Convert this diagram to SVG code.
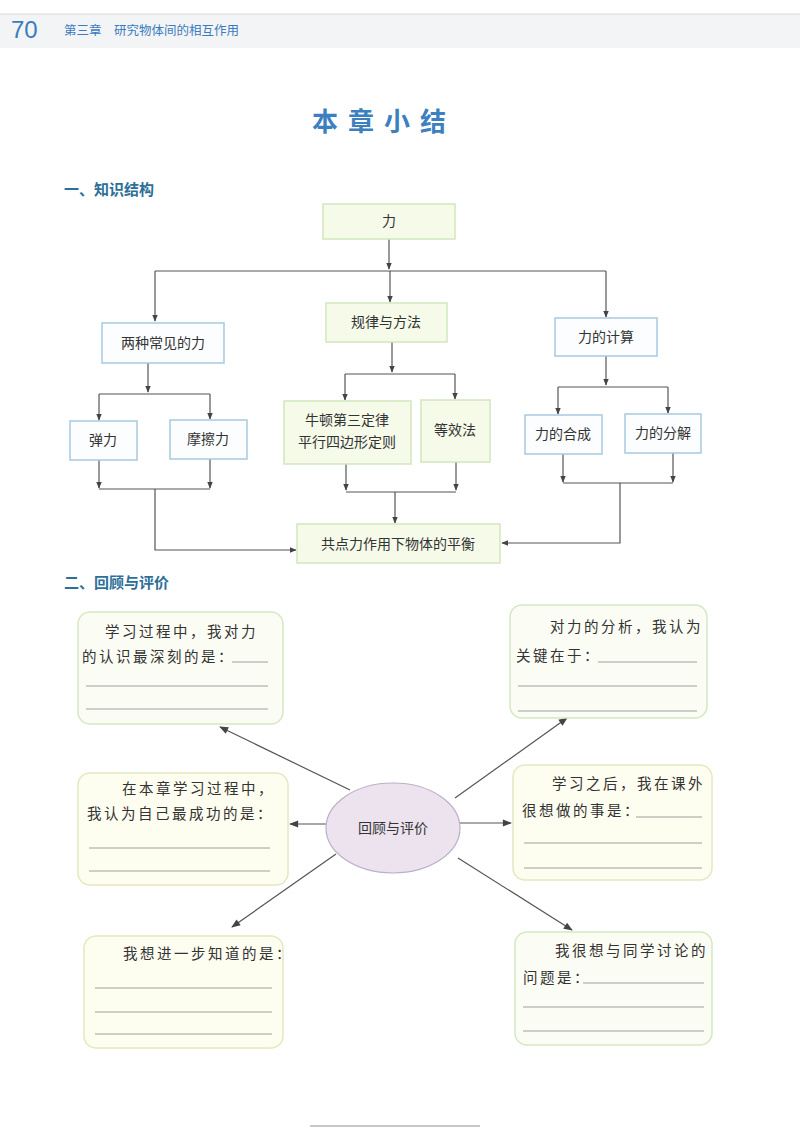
<svg xmlns="http://www.w3.org/2000/svg" width="800" height="1132" viewBox="0 0 800 1132">
<defs>
<marker id="ah" viewBox="0 0 10 10" refX="9" refY="5" markerWidth="7" markerHeight="7" orient="auto" markerUnits="userSpaceOnUse"><path d="M0,1 L10,5 L0,9 Z" fill="#444"/></marker>
<marker id="ah2" viewBox="0 0 10 10" refX="9" refY="5" markerWidth="12" markerHeight="9" orient="auto" markerUnits="userSpaceOnUse"><path d="M0,1 L10,5 L0,9 Z" fill="#444"/></marker>
</defs>
<style>
text{font-family:"Liberation Serif","Noto Sans CJK SC",serif;fill:#333}
.g{fill:#f5fae9;stroke:#d3e6bf;stroke-width:1.5}
.b{fill:#fbfdfe;stroke:#a9c9df;stroke-width:1.5}
.t{font-size:14px;text-anchor:middle}
.c line,.c polyline{stroke:#555;stroke-width:1.2;fill:none}
.r{fill:#fbfdf4;stroke:#d5e8c4;stroke-width:1.5}
.ry{fill:#fdfdf0;stroke:#e6e8c0;stroke-width:1.5}
.u{stroke:#888;stroke-width:0.8}
.bt{font-size:14.5px;letter-spacing:2.5px}
.h{font-family:"Noto Sans CJK SC",sans-serif;fill:#2e6f98;font-weight:bold;font-size:15px}
</style>
<rect x="0" y="0" width="800" height="1132" fill="#ffffff"/>
<rect x="0" y="14" width="800" height="34" fill="#f3f4f5"/>
<line x1="0" y1="14" x2="800" y2="14" stroke="#d8d8d8"/>
<text x="11" y="38" style="font-family:'Liberation Sans',sans-serif;font-size:24px;fill:#3a7cc0">70</text>
<text x="64" y="35" style="font-family:'Noto Sans CJK SC',sans-serif;font-size:12.5px;fill:#3a7cc0">第三章　研究物体间的相互作用</text>
<text x="384" y="131" text-anchor="middle" style="font-family:'Noto Sans CJK SC',sans-serif;font-size:26px;font-weight:bold;fill:#3d80c0;letter-spacing:10px">本章小结</text>
<text x="64" y="195" class="h">一、知识结构</text>
<text x="64" y="588" class="h">二、回顾与评价</text>

<g id="connectors" class="c">
<line x1="389" y1="239" x2="389" y2="269" marker-end="url(#ah)"/>
<line x1="155" y1="271" x2="606" y2="271"/>
<line x1="155" y1="271" x2="155" y2="321" marker-end="url(#ah)"/>
<line x1="390" y1="271" x2="390" y2="302" marker-end="url(#ah)"/>
<line x1="606" y1="271" x2="606" y2="317" marker-end="url(#ah)"/>
<line x1="148" y1="363" x2="148" y2="392" marker-end="url(#ah)"/>
<line x1="99" y1="394" x2="210" y2="394"/>
<line x1="99" y1="394" x2="99" y2="420" marker-end="url(#ah)"/>
<line x1="210" y1="394" x2="210" y2="419" marker-end="url(#ah)"/>
<line x1="99" y1="460" x2="99" y2="488" marker-end="url(#ah)"/>
<line x1="210" y1="459" x2="210" y2="488" marker-end="url(#ah)"/>
<line x1="99" y1="489" x2="210" y2="489"/>
<polyline points="155,489 155,550 296,550" marker-end="url(#ah)"/>
<line x1="392" y1="342" x2="392" y2="372" marker-end="url(#ah)"/>
<line x1="345" y1="374" x2="455" y2="374"/>
<line x1="345" y1="374" x2="345" y2="400" marker-end="url(#ah)"/>
<line x1="455" y1="374" x2="455" y2="399" marker-end="url(#ah)"/>
<line x1="346" y1="464" x2="346" y2="490" marker-end="url(#ah)"/>
<line x1="456" y1="462" x2="456" y2="490" marker-end="url(#ah)"/>
<line x1="346" y1="492" x2="456" y2="492"/>
<line x1="395" y1="492" x2="395" y2="523" marker-end="url(#ah)"/>
<line x1="606" y1="356" x2="606" y2="385" marker-end="url(#ah)"/>
<line x1="558" y1="387" x2="668" y2="387"/>
<line x1="558" y1="387" x2="558" y2="414" marker-end="url(#ah)"/>
<line x1="668" y1="387" x2="668" y2="413" marker-end="url(#ah)"/>
<line x1="563" y1="454" x2="563" y2="482" marker-end="url(#ah)"/>
<line x1="673" y1="453" x2="673" y2="482" marker-end="url(#ah)"/>
<line x1="563" y1="483" x2="673" y2="483"/>
<polyline points="620,483 620,543 502,543" marker-end="url(#ah)"/>
<line x1="350" y1="790" x2="220" y2="727" marker-end="url(#ah2)"/>
<line x1="455" y1="798" x2="567" y2="718" marker-end="url(#ah2)"/>
<line x1="326" y1="824" x2="290" y2="824" marker-end="url(#ah2)"/>
<line x1="460" y1="823" x2="511" y2="823" marker-end="url(#ah2)"/>
<line x1="336" y1="854" x2="232" y2="927" marker-end="url(#ah2)"/>
<line x1="458" y1="858" x2="572" y2="930" marker-end="url(#ah2)"/>
</g>

<g id="n-li"><rect class="g" x="323" y="204" width="132" height="35"/><text class="t" x="389" y="226">力</text></g>
<g id="n-liangzhong"><rect class="b" x="102" y="323" width="122" height="40"/><text class="t" x="163" y="348">两种常见的力</text></g>
<g id="n-guilv"><rect class="g" x="326" y="303" width="121" height="39"/><text class="t" x="386" y="327">规律与方法</text></g>
<g id="n-jisuan"><rect class="b" x="555" y="318" width="102" height="38"/><text class="t" x="606" y="342">力的计算</text></g>
<g id="n-tanli"><rect class="b" x="70" y="421" width="67" height="39"/><text class="t" x="103" y="445">弹力</text></g>
<g id="n-mocali"><rect class="b" x="170" y="420" width="77" height="39"/><text class="t" x="208" y="444">摩擦力</text></g>
<g id="n-niudun"><rect class="g" x="284" y="401" width="127" height="63"/><text class="t" x="347" y="425">牛顿第三定律</text><text class="t" x="347" y="447">平行四边形定则</text></g>
<g id="n-dengxiao"><rect class="g" x="421" y="400" width="69" height="62"/><text class="t" x="455" y="435">等效法</text></g>
<g id="n-hecheng"><rect class="b" x="525" y="415" width="77" height="39"/><text class="t" x="563" y="439">力的合成</text></g>
<g id="n-fenjie"><rect class="b" x="625" y="414" width="76" height="39"/><text class="t" x="663" y="438">力的分解</text></g>
<g id="n-pingheng"><rect class="g" x="297" y="524" width="203" height="39"/><text class="t" x="398" y="549">共点力作用下物体的平衡</text></g>

<g id="n-center"><ellipse cx="393" cy="828" rx="67" ry="45" fill="#ece3ef" stroke="#bcaecb" stroke-width="1.2"/><text class="t" x="393" y="833">回顾与评价</text></g>

<g id="n-tl"><rect class="r" x="78" y="612" width="205" height="112" rx="12"/>
<text class="bt" x="105" y="637">学习过程中，我对力</text><text class="bt" x="82" y="662">的认识最深刻的是：</text>
<line class="u" x1="232" y1="662" x2="268" y2="662"/><line class="u" x1="86" y1="686" x2="268" y2="686"/><line class="u" x1="86" y1="709" x2="268" y2="709"/></g>
<g id="n-tr"><rect class="r" x="510" y="605" width="197" height="113" rx="12"/>
<text class="bt" x="550" y="632">对力的分析，我认为</text><text class="bt" x="516" y="661">关键在于：</text>
<line class="u" x1="598" y1="662" x2="697" y2="662"/><line class="u" x1="518" y1="686" x2="697" y2="686"/><line class="u" x1="518" y1="711" x2="697" y2="711"/></g>
<g id="n-ml"><rect class="ry" x="78" y="773" width="210" height="112" rx="12"/>
<text class="bt" x="122" y="794">在本章学习过程中，</text><text class="bt" x="87" y="819">我认为自己最成功的是：</text>
<line class="u" x1="89" y1="848" x2="270" y2="848"/><line class="u" x1="89" y1="871" x2="270" y2="871"/></g>
<g id="n-mr"><rect class="ry" x="513" y="765" width="199" height="115" rx="12"/>
<text class="bt" x="552" y="789">学习之后，我在课外</text><text class="bt" x="522" y="816">很想做的事是：</text>
<line class="u" x1="636" y1="817" x2="702" y2="817"/><line class="u" x1="524" y1="843" x2="702" y2="843"/><line class="u" x1="524" y1="868" x2="702" y2="868"/></g>
<g id="n-bl"><rect class="ry" x="84" y="936" width="199" height="112" rx="12"/>
<text class="bt" x="123" y="959">我想进一步知道的是：</text>
<line class="u" x1="95" y1="988" x2="272" y2="988"/><line class="u" x1="95" y1="1012" x2="272" y2="1012"/><line class="u" x1="95" y1="1034" x2="272" y2="1034"/></g>
<g id="n-br"><rect class="r" x="515" y="932" width="197" height="113" rx="12"/>
<text class="bt" x="555" y="956">我很想与同学讨论的</text><text class="bt" x="523" y="983">问题是：</text>
<line class="u" x1="583" y1="983" x2="704" y2="983"/><line class="u" x1="523" y1="1007" x2="704" y2="1007"/><line class="u" x1="523" y1="1031" x2="704" y2="1031"/></g>

<line x1="310" y1="1126" x2="480" y2="1126" stroke="#c8c8c8" stroke-width="2"/>
</svg>
